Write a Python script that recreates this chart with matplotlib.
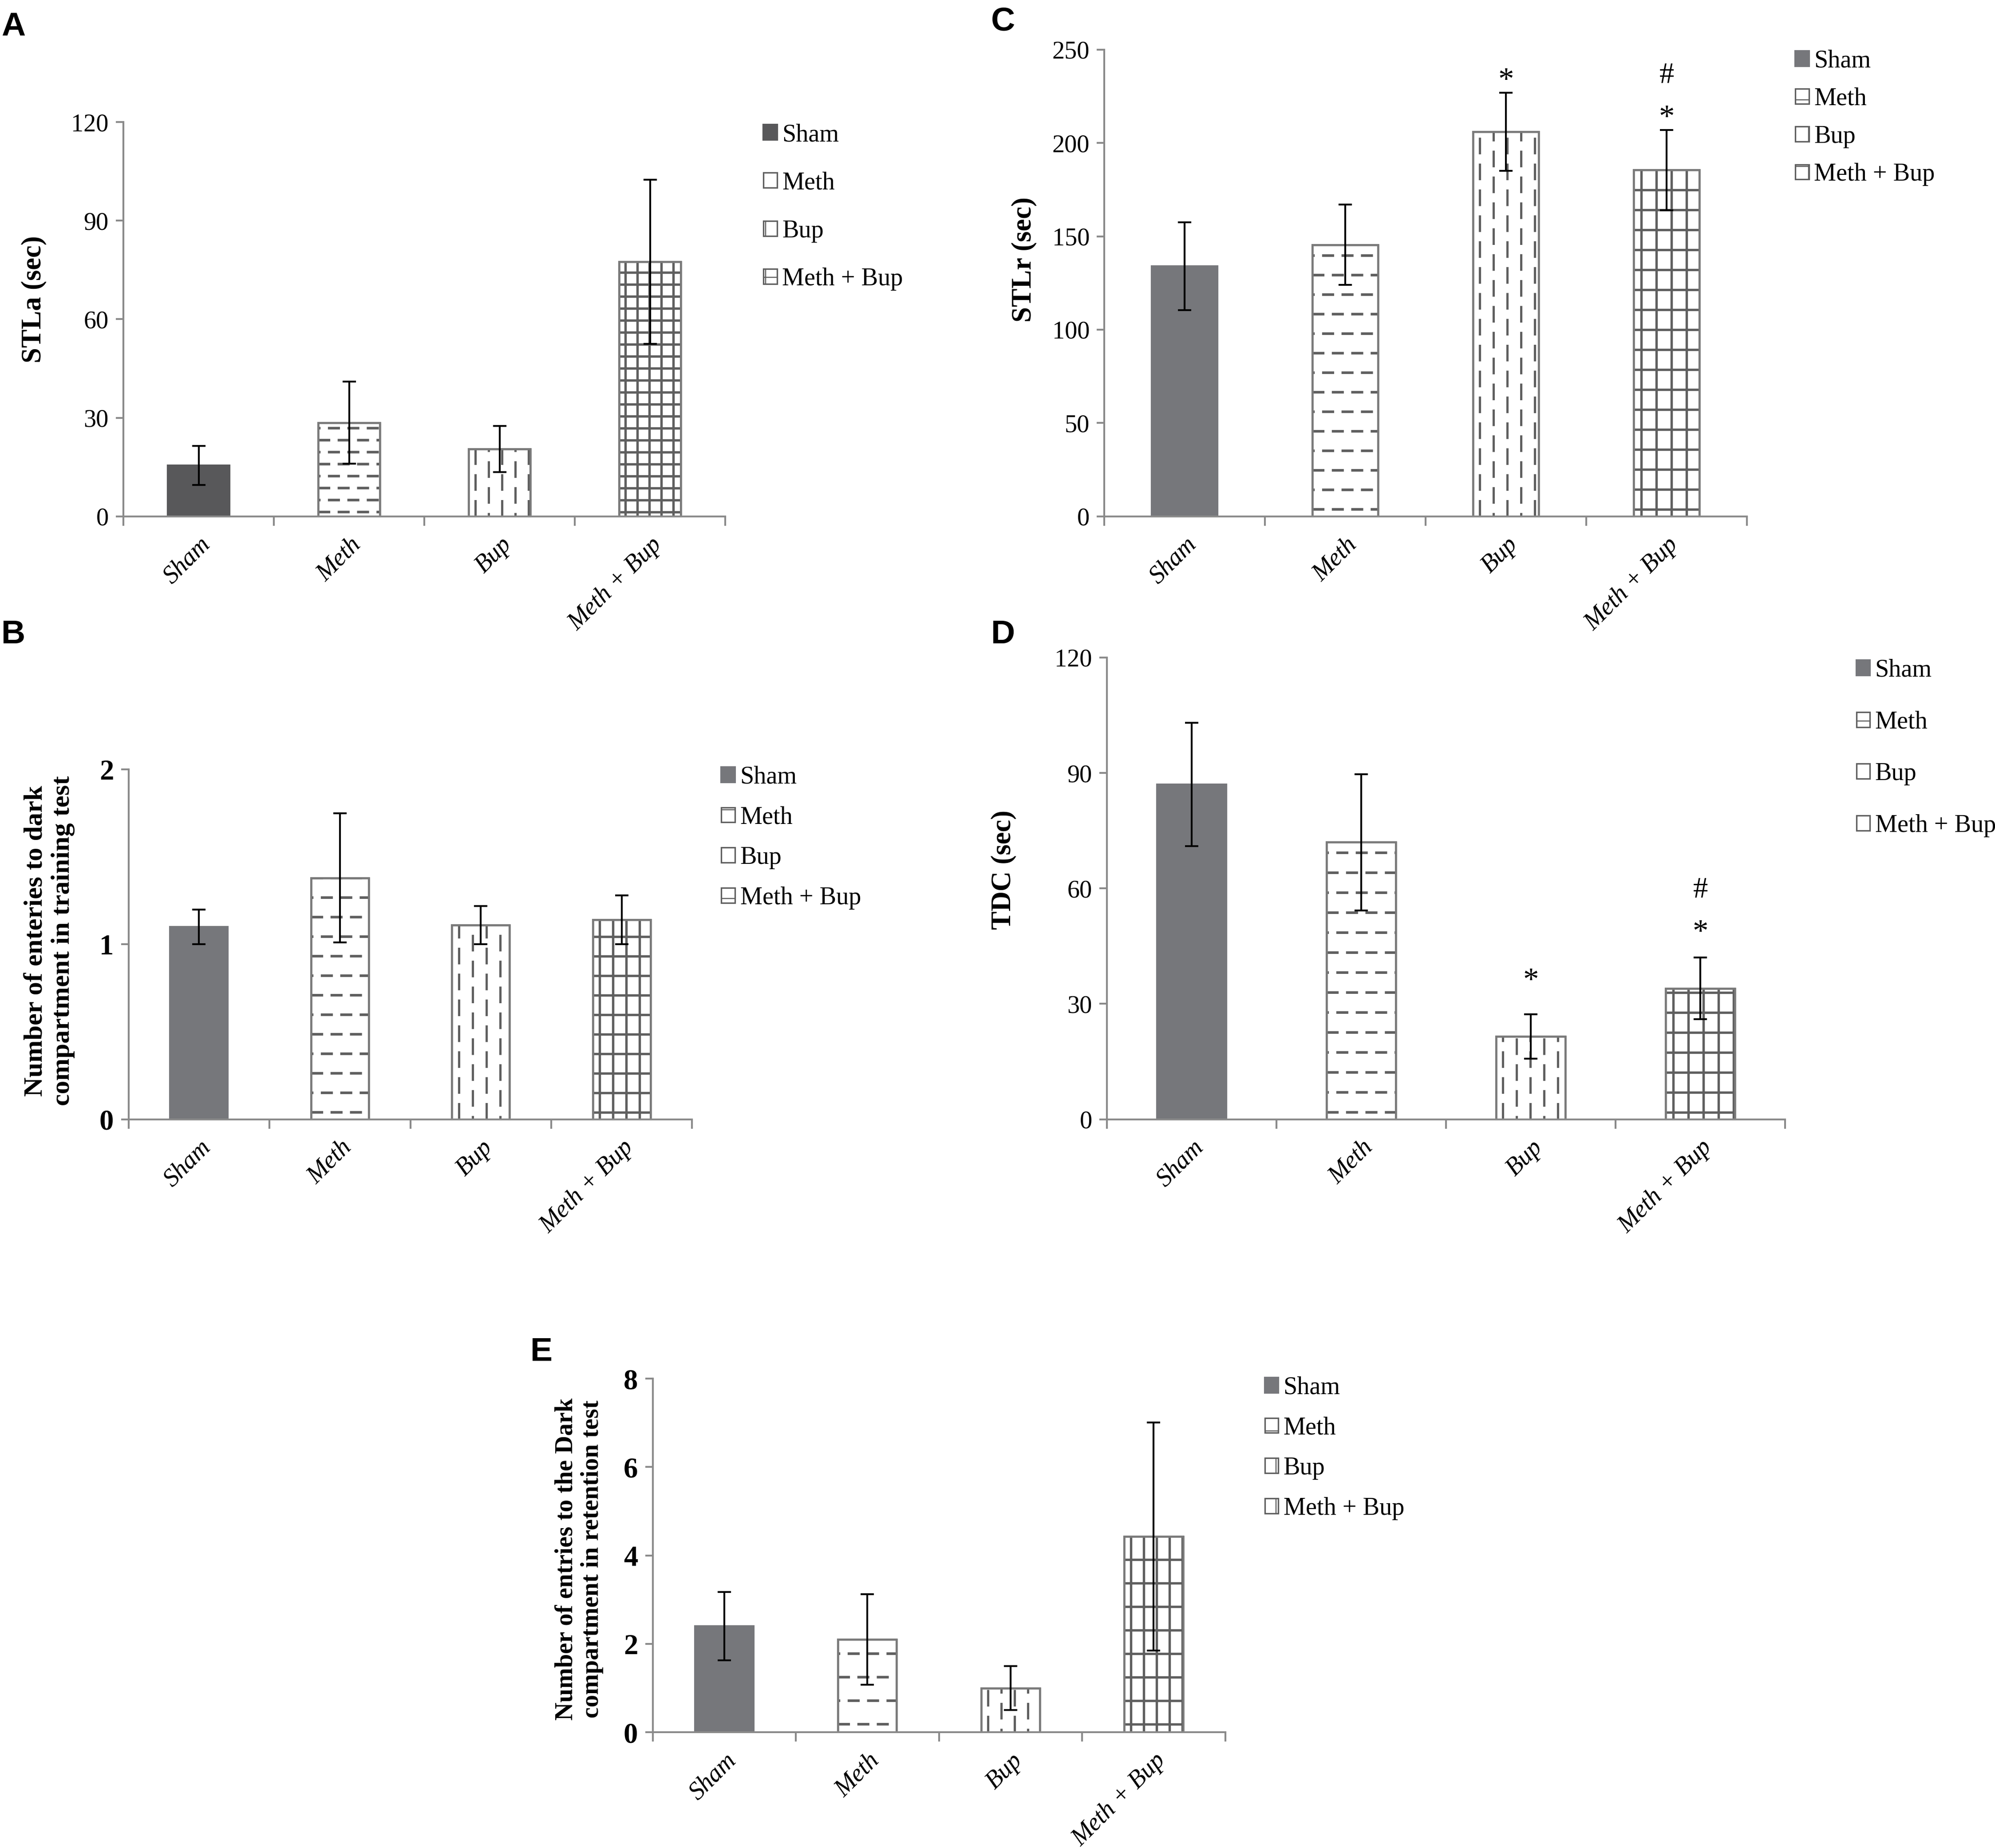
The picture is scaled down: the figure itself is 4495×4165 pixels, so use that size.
import numpy as np
import matplotlib.pyplot as plt
from matplotlib.patches import Patch

plt.rcParams['font.family'] = ['Liberation Serif', 'DejaVu Serif']
plt.rcParams['lines.scale_dashes'] = False
plt.rcParams['hatch.linewidth'] = 0.6

groups = ['Sham', 'Meth', 'Bup', 'Meth + Bup']

# A - step-through latency, acquisition
stla_mean = [15.5, 28.5, 20.5, 77.5]
stla_err = [6, 12.5, 7, 25]
# B - entries to dark compartment, training
train_mean = [1.10, 1.38, 1.11, 1.14]
train_err = [0.10, 0.37, 0.11, 0.14]
# C - step-through latency, retention
stlr_mean = [134, 145.5, 206, 185.5]
stlr_err = [23.5, 21.5, 21, 21.5]
# D - time in dark compartment
tdc_mean = [87, 72, 21.5, 34]
tdc_err = [16, 17.7, 5.8, 8]
# E - entries to dark compartment, retention
ret_mean = [2.4, 2.1, 1.0, 4.43]
ret_err = [0.77, 1.02, 0.5, 2.58]

W, H = 4495, 4165
DW, DH = 1568.0, 1453.0   # coords I measured on the preview
fig = plt.figure(figsize=(W / 300, H / 300), dpi=300)

GRAY = '#8a8a8a'
EDGE = '#7a7a7a'
PAT = '#5f5f5f'


def frect(l, r, t, b):
    return [l / DW, 1 - b / DH, (r - l) / DW, (b - t) / DH]


def lines_in_bar(ax, bar, kind, step, dash=None, gap=None, lw=1.1):
    # fill a bar with (dashed) lines, spacing in output pixels
    x0, y0 = bar.get_x(), bar.get_y()
    x1, y1 = x0 + bar.get_width(), y0 + bar.get_height()
    tr = ax.transData
    inv = tr.inverted()
    p0 = tr.transform((x0, y0))
    p1 = tr.transform((x1, y1))
    if kind == 'h':
        pos = np.arange(p0[1] + step * 0.35, p1[1], step)
        vals = inv.transform(np.column_stack([np.full_like(pos, p0[0]), pos]))[:, 1]
    else:
        pos = np.arange(p0[0] + step * 0.5, p1[0], step)
        vals = inv.transform(np.column_stack([pos, np.full_like(pos, p0[1])]))[:, 0]
    for i, v in enumerate(vals):
        if dash is None:
            ls = '-'
        else:
            ls = ((dash + gap) * 0.5 * (i % 2), (dash, gap))
        if kind == 'h':
            ln, = ax.plot([x0, x1], [v, v], color=PAT, lw=lw, ls=ls, zorder=1.5,
                          solid_capstyle='butt', dash_capstyle='butt')
        else:
            ln, = ax.plot([v, v], [y0, y1], color=PAT, lw=lw, ls=ls, zorder=1.5,
                          solid_capstyle='butt', dash_capstyle='butt')
        ln.set_clip_path(bar)


def panel(rect, means, errs, ymax, yticks, ylabel, lab_xy, sham_col, steps,
          tick_bold=False, tick_size=13.5, ylab_size=15):
    ax = fig.add_axes(rect)
    x = np.arange(len(groups))
    ax.set_xlim(-0.5, len(groups) - 0.5)
    ax.set_ylim(0, ymax)
    bars = ax.bar(x, means, 0.41, color=[sham_col, 'white', 'white', 'white'],
                  edgecolor=[sham_col, EDGE, EDGE, EDGE], lw=1.0, zorder=1)
    hs, vs, gx, gy = steps
    lines_in_bar(ax, bars[1], 'h', hs, dash=6.5, gap=4.0, lw=1.4)
    lines_in_bar(ax, bars[2], 'v', vs, dash=9.0, gap=5.0, lw=1.2)
    lines_in_bar(ax, bars[3], 'v', gx, lw=1.3)
    lines_in_bar(ax, bars[3], 'h', gy, lw=1.3)
    ax.bar(x[1:], means[1:], 0.41, fill=False, edgecolor=EDGE, lw=1.1, zorder=2)
    ax.errorbar(x, means, yerr=errs, fmt='none', ecolor='black', elinewidth=1.0,
                capsize=3.5, capthick=1.0, zorder=3)
    for s in ['top', 'right']:
        ax.spines[s].set_visible(False)
    for s in ['left', 'bottom']:
        ax.spines[s].set_color(GRAY)
        ax.spines[s].set_linewidth(1.0)
    ax.set_xticks(x)
    ax.set_xticklabels(groups, rotation=45, ha='right', rotation_mode='anchor',
                       fontstyle='italic', fontsize=13.5)
    ax.set_xticks(np.arange(-0.5, len(groups), 1), minor=True)
    ax.tick_params(axis='x', which='major', length=0, pad=9)
    ax.tick_params(axis='x', which='minor', length=5, color=GRAY, width=1.0)
    ax.set_yticks(yticks)
    ax.tick_params(axis='y', length=4, color=GRAY, width=1.0, labelsize=tick_size, pad=4)
    if tick_bold:
        for t in ax.get_yticklabels():
            t.set_fontweight('bold')
    ax.set_ylabel(ylabel, fontsize=ylab_size, fontweight='bold', linespacing=1.15)
    ax.yaxis.set_label_coords(*lab_xy)
    return ax


def legend(sham_col, left, top, spacing, size=13.5):
    hs = [Patch(facecolor=sham_col, edgecolor=sham_col),
          Patch(facecolor='white', edgecolor=PAT, hatch='-', lw=0.8),
          Patch(facecolor='white', edgecolor=PAT, hatch='|', lw=0.8),
          Patch(facecolor='white', edgecolor=PAT, hatch='+', lw=0.8)]
    fig.legend(hs, groups, loc='upper left', bbox_to_anchor=(left / DW, 1 - top / DH),
               frameon=False, fontsize=size, handlelength=0.55, handleheight=0.55,
               handletextpad=0.2, labelspacing=spacing, borderpad=0, borderaxespad=0)


def letter(ch, x, y):
    fig.text(x / DW, 1 - y / DH, ch, ha='left', va='top', fontsize=18,
             fontweight='bold', family=['Liberation Sans', 'DejaVu Sans'])


# A
panel(frect(97, 570, 96, 406), stla_mean, stla_err, 120, [0, 30, 60, 90, 120],
      'STLa (sec)', (-0.127, 0.55), '#58585a', (27, 30, 27, 27))
legend('#58585a', 600, 97, 1.0)
letter('A', 1, 9)

# C
axc = panel(frect(868, 1373, 39, 406), stlr_mean, stlr_err, 250, [0, 50, 100, 150, 200, 250],
            'STLr (sec)', (-0.105, 0.55), '#76777b', (44, 31, 34, 45))
axc.text(2, 233, '*', ha='center', va='center', fontsize=17)
axc.text(3, 236, '#', ha='center', va='center', fontsize=16)
axc.text(3, 213, '*', ha='center', va='center', fontsize=17)
legend('#76777b', 1411, 39, 0.59)
letter('C', 779, 5)

# B
panel(frect(101, 544, 605, 880), train_mean, train_err, 2, [0, 1, 2],
      'Number of enteries to dark\ncompartment in training test', (-0.095, 0.51),
      '#76777b', (44, 31, 30, 44), tick_bold=True, tick_size=15.5, ylab_size=14.5)
legend('#76777b', 567, 602, 0.69)
letter('B', 1, 487)

# D
axd = panel(frect(870, 1403, 517, 880), tdc_mean, tdc_err, 120, [0, 30, 60, 90, 120],
            'TDC (sec)', (-0.133, 0.54), '#76777b', (45, 31, 34, 45))
axd.text(2, 35.7, '*', ha='center', va='center', fontsize=17)
axd.text(3, 59.5, '#', ha='center', va='center', fontsize=16)
axd.text(3, 48.3, '*', ha='center', va='center', fontsize=17)
legend('#76777b', 1459, 518, 1.15)
letter('D', 779, 487)

# E
panel(frect(513, 963, 1084, 1362), ret_mean, ret_err, 8, [0, 2, 4, 6, 8],
      'Number of entries to the Dark\ncompartment in retention test', (-0.086, 0.49),
      '#76777b', (53, 30, 29, 53), tick_bold=True, tick_size=15.5, ylab_size=13.5)
legend('#76777b', 994, 1082, 0.69)
letter('E', 417, 1051)

fig.savefig('out.png', dpi=300, facecolor='white')
